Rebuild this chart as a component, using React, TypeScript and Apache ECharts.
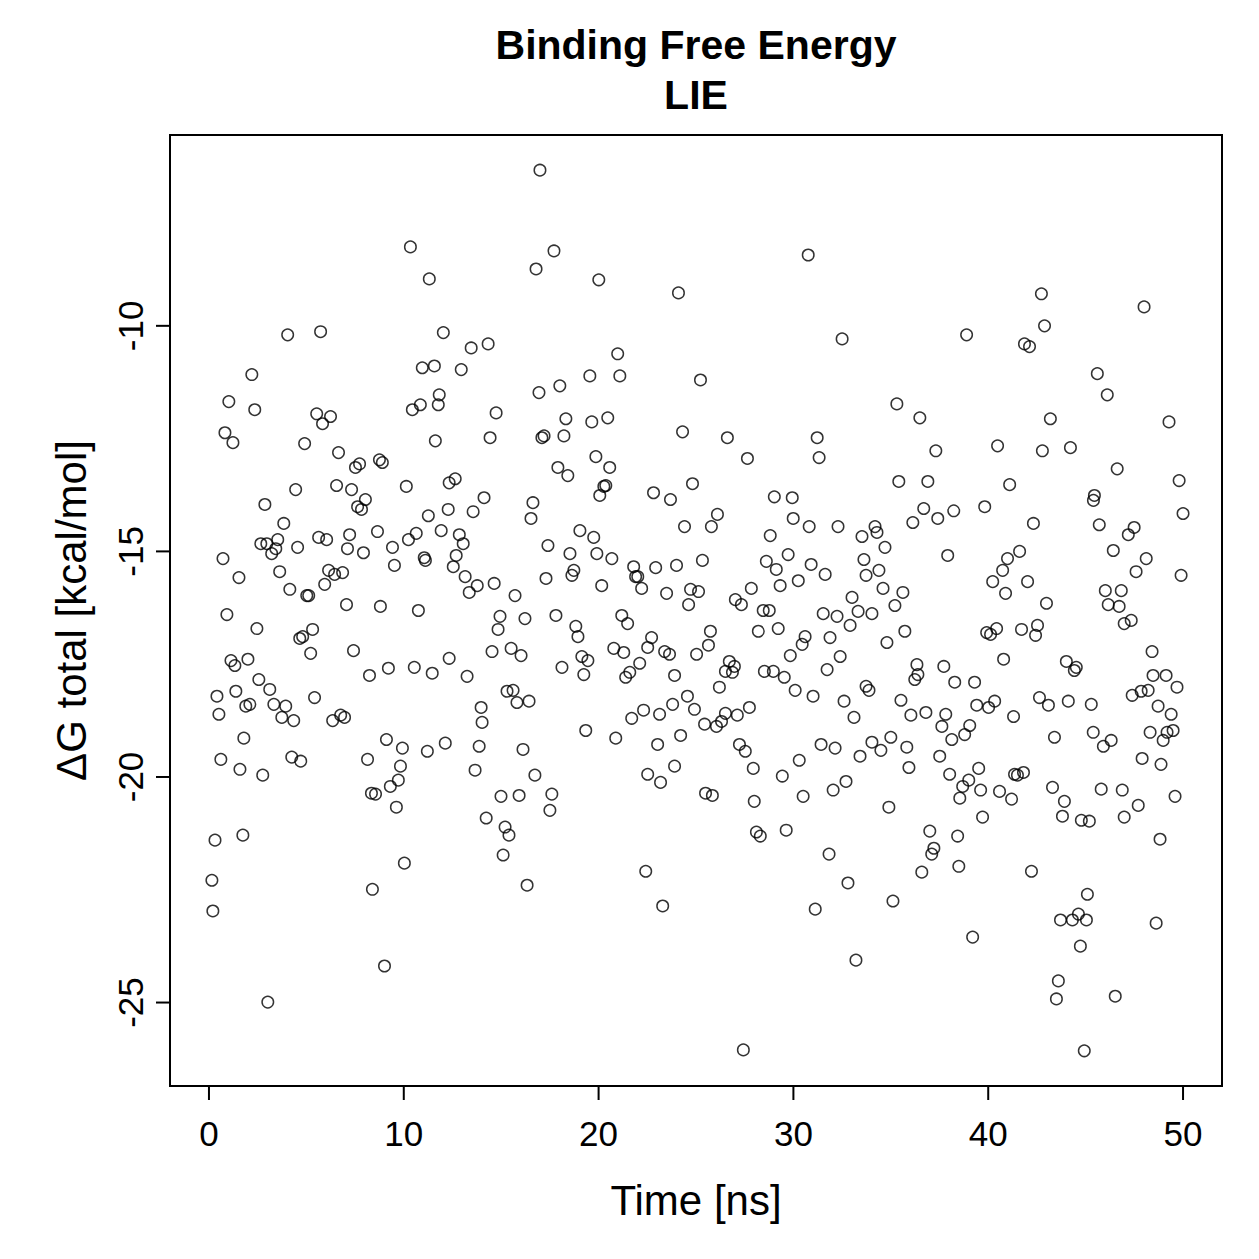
import React, { useEffect, useRef } from "react";
import * as echarts from "echarts";

// Binding free energy (LIE), time [ns] vs ΔG total [kcal/mol]
const lie0to10: [number, number][] = [
  [0.15, -22.29], [0.2, -22.97], [0.31, -21.4], [0.41, -18.21], [0.51, -18.61], [0.61, -19.61], [0.72, -15.16], [0.82, -12.37],
  [0.92, -16.4], [1.02, -11.68], [1.13, -17.42], [1.23, -12.59], [1.33, -17.53], [1.38, -18.1], [1.54, -15.58], [1.59, -19.83],
  [1.74, -21.29], [1.79, -19.14], [1.89, -18.43], [2.0, -17.39], [2.1, -18.39], [2.2, -11.08], [2.35, -11.86], [2.46, -16.71],
  [2.56, -17.84], [2.66, -14.83], [2.76, -19.96], [2.87, -13.96], [2.97, -14.83], [3.02, -24.99], [3.12, -18.06], [3.22, -15.05],
  [3.33, -18.39], [3.43, -14.94], [3.53, -14.74], [3.63, -15.45], [3.74, -18.68], [3.84, -14.38], [3.94, -18.43], [4.04, -10.2],
  [4.15, -15.84], [4.25, -19.56], [4.35, -18.75], [4.45, -13.63], [4.55, -14.91], [4.66, -16.93], [4.71, -19.65], [4.81, -16.89],
  [4.91, -12.61], [5.02, -15.98], [5.12, -15.98], [5.22, -17.26], [5.32, -16.73], [5.42, -18.24], [5.53, -11.95], [5.63, -14.69],
  [5.73, -10.13], [5.83, -12.17], [5.94, -15.73], [6.04, -14.74], [6.14, -15.42], [6.24, -12.01], [6.35, -18.75], [6.45, -15.51],
  [6.55, -13.54], [6.65, -12.81], [6.76, -18.63], [6.86, -15.47], [6.96, -18.68], [7.06, -16.18], [7.11, -14.94], [7.22, -14.63],
  [7.32, -13.63], [7.42, -17.2], [7.52, -13.14], [7.63, -14.01], [7.73, -13.06], [7.83, -14.07], [7.93, -15.03], [8.03, -13.85],
  [8.14, -19.61], [8.24, -17.75], [8.34, -20.36], [8.39, -22.49], [8.55, -20.38], [8.65, -14.56], [8.75, -12.97], [8.8, -16.22],
  [8.9, -13.03], [9.01, -24.19], [9.11, -19.17], [9.21, -17.59], [9.31, -20.21], [9.42, -14.91], [9.52, -15.31], [9.62, -20.67],
  [9.72, -20.07], [9.83, -19.76], [9.93, -19.36],
];
const lie10to20: [number, number][] = [
  [10.03, -21.91], [10.13, -13.56], [10.24, -14.74], [10.34, -8.25], [10.44, -11.86], [10.54, -17.57], [10.64, -14.6], [10.75, -16.31],
  [10.85, -11.75], [10.95, -10.93], [11.05, -15.14], [11.11, -15.2], [11.21, -19.43], [11.31, -8.96], [11.26, -14.21], [11.46, -17.7],
  [11.57, -10.89], [11.62, -12.55], [11.77, -11.75], [11.82, -11.53], [11.92, -14.54], [12.03, -10.15], [12.13, -19.25], [12.33, -13.48],
  [12.33, -17.37], [12.28, -14.07], [12.54, -15.34], [12.64, -13.39], [12.69, -15.09], [12.85, -14.63], [12.95, -10.97], [13.05, -14.83],
  [13.15, -15.56], [13.25, -17.77], [13.36, -15.91], [13.46, -10.49], [13.56, -14.12], [13.66, -19.85], [13.77, -15.76], [13.87, -19.32],
  [13.97, -18.46], [14.02, -18.79], [14.12, -13.81], [14.23, -20.91], [14.33, -10.4], [14.43, -12.48], [14.53, -17.22], [14.64, -15.71],
  [14.74, -11.93], [14.84, -16.73], [14.94, -16.44], [14.99, -20.43], [15.1, -21.73], [15.2, -21.11], [15.3, -18.1], [15.4, -21.29],
  [15.51, -17.15], [15.61, -18.08], [15.71, -15.98], [15.81, -18.35], [15.92, -20.41], [16.02, -17.31], [16.12, -19.39], [16.22, -16.49],
  [16.33, -22.4], [16.43, -18.32], [16.53, -14.27], [16.63, -13.92], [16.73, -19.96], [16.79, -8.74], [16.94, -11.48], [16.99, -6.55],
  [17.09, -12.48], [17.2, -12.44], [17.3, -15.6], [17.4, -14.87], [17.5, -20.74], [17.6, -20.38], [17.71, -8.34], [17.81, -16.42],
  [17.91, -13.14], [18.01, -11.33], [18.12, -17.57], [18.22, -12.44], [18.32, -12.06], [18.42, -13.32], [18.53, -15.05], [18.63, -15.53],
  [18.73, -15.42], [18.83, -16.66], [18.94, -16.89], [19.04, -14.54], [19.14, -17.33], [19.24, -17.73], [19.34, -18.97], [19.45, -17.42],
  [19.55, -11.11], [19.65, -12.13], [19.75, -14.69], [19.86, -12.9], [19.91, -15.05],
];
const lie20to30: [number, number][] = [
  [20.01, -8.98], [20.06, -13.76], [20.16, -15.76], [20.27, -13.56], [20.37, -13.54], [20.47, -12.04], [20.57, -13.14], [20.68, -15.16],
  [20.78, -17.15], [20.88, -19.14], [20.98, -10.62], [21.09, -11.11], [21.19, -16.42], [21.29, -17.24], [21.39, -17.79], [21.49, -16.6],
  [21.6, -17.68], [21.7, -18.7], [21.8, -15.34], [21.9, -15.56], [22.01, -15.56], [22.11, -17.48], [22.21, -15.82], [22.31, -18.52],
  [22.42, -22.09], [22.52, -19.94], [22.52, -17.13], [22.72, -16.91], [22.82, -13.7], [22.93, -15.36], [23.03, -19.28], [23.13, -18.61],
  [23.18, -20.12], [23.29, -22.86], [23.39, -17.22], [23.49, -15.93], [23.64, -17.28], [23.69, -13.85], [23.8, -18.39], [23.9, -17.75],
  [23.9, -19.76], [24.0, -15.31], [24.1, -9.27], [24.21, -19.08], [24.31, -12.35], [24.41, -14.45], [24.56, -18.21], [24.62, -16.18],
  [24.72, -15.84], [24.82, -13.5], [24.92, -18.5], [25.03, -17.28], [25.13, -15.89], [25.23, -11.2], [25.33, -15.2], [25.44, -18.83],
  [25.49, -20.36], [25.64, -17.08], [25.74, -16.77], [25.79, -14.45], [25.84, -20.41], [26.1, -14.18], [26.05, -18.88], [26.2, -18.01],
  [26.31, -18.77], [26.51, -18.59], [26.51, -17.66], [26.61, -12.48], [26.71, -17.44], [26.87, -17.68], [26.97, -17.55], [27.02, -16.07],
  [27.12, -18.63], [27.23, -19.28], [27.33, -16.18], [27.43, -26.05], [27.53, -19.43], [27.64, -12.94], [27.74, -18.46], [27.84, -15.82],
  [27.94, -19.81], [27.99, -20.54], [28.1, -21.22], [28.2, -16.77], [28.3, -21.31], [28.45, -16.31], [28.51, -17.66], [28.61, -15.22],
  [28.76, -16.31], [28.81, -14.65], [28.97, -17.66], [29.02, -13.79], [29.12, -15.4], [29.22, -16.71], [29.32, -15.76], [29.43, -19.98],
  [29.53, -17.79], [29.63, -21.18], [29.73, -15.07], [29.84, -17.31], [29.94, -13.81], [29.99, -14.27],
];
const lie30to40: [number, number][] = [
  [30.09, -18.08], [30.25, -15.65], [30.3, -19.63], [30.45, -17.06], [30.5, -20.43], [30.6, -16.89], [30.76, -8.43], [30.81, -14.45],
  [30.91, -15.29], [31.01, -18.21], [31.12, -22.93], [31.22, -12.48], [31.32, -12.92], [31.42, -19.28], [31.53, -16.38], [31.63, -15.51],
  [31.73, -17.62], [31.83, -21.71], [31.88, -16.91], [32.04, -20.29], [32.14, -19.36], [32.24, -16.44], [32.29, -14.45], [32.4, -17.33],
  [32.5, -10.29], [32.6, -18.32], [32.7, -20.1], [32.8, -22.35], [32.91, -16.64], [33.01, -16.02], [33.11, -18.68], [33.21, -24.06],
  [33.32, -16.33], [33.42, -19.54], [33.52, -14.67], [33.62, -15.18], [33.73, -15.53], [33.73, -17.99], [33.88, -18.08], [34.03, -16.38],
  [34.03, -19.23], [34.19, -14.45], [34.29, -14.58], [34.39, -15.42], [34.49, -19.41], [34.6, -15.82], [34.7, -14.91], [34.8, -17.02],
  [34.9, -20.67], [35.0, -19.12], [35.11, -22.75], [35.21, -16.2], [35.31, -11.73], [35.41, -13.45], [35.52, -18.3], [35.62, -15.91],
  [35.72, -16.77], [35.82, -19.34], [35.93, -19.79], [36.03, -18.63], [36.13, -14.36], [36.23, -17.84], [36.34, -17.51], [36.39, -17.73],
  [36.49, -12.04], [36.59, -22.11], [36.69, -14.05], [36.8, -18.57], [36.9, -13.45], [37.0, -21.2], [37.1, -21.71], [37.21, -21.58],
  [37.31, -12.77], [37.41, -14.27], [37.51, -19.54], [37.62, -18.88], [37.72, -17.55], [37.82, -18.61], [37.92, -15.09], [38.02, -19.94],
  [38.13, -19.17], [38.23, -14.1], [38.28, -17.9], [38.43, -21.31], [38.49, -21.98], [38.54, -20.47], [38.69, -20.21], [38.79, -19.06],
  [38.89, -10.2], [39.0, -20.07], [39.05, -18.86], [39.2, -23.55], [39.3, -17.9], [39.41, -18.41], [39.51, -19.81], [39.61, -20.29],
  [39.71, -20.89], [39.82, -14.01], [39.92, -16.8],
];
const lie40to50: [number, number][] = [
  [40.02, -18.46], [40.12, -16.84], [40.23, -15.67], [40.33, -18.32], [40.43, -16.71], [40.48, -12.66], [40.58, -20.32], [40.74, -15.42],
  [40.79, -17.39], [40.89, -15.93], [40.99, -15.16], [41.1, -13.52], [41.2, -20.49], [41.3, -18.66], [41.35, -19.94], [41.5, -19.96],
  [41.61, -15.0], [41.71, -16.73], [41.81, -19.9], [41.86, -10.4], [42.02, -15.67], [42.12, -10.46], [42.22, -22.09], [42.32, -14.38],
  [42.43, -16.86], [42.53, -16.64], [42.63, -18.24], [42.73, -9.29], [42.78, -12.77], [42.89, -10.0], [42.99, -16.15], [43.09, -18.41],
  [43.19, -12.06], [43.3, -20.23], [43.4, -19.12], [43.5, -24.92], [43.6, -24.52], [43.71, -23.17], [43.81, -20.87], [43.91, -20.54],
  [44.01, -17.44], [44.11, -18.32], [44.22, -12.7], [44.32, -23.17], [44.42, -17.64], [44.52, -17.57], [44.63, -23.04], [44.73, -23.75],
  [44.78, -20.96], [44.93, -26.07], [45.04, -23.17], [45.09, -22.6], [45.19, -20.98], [45.29, -18.39], [45.39, -19.01], [45.45, -13.76],
  [45.4, -13.87], [45.6, -11.06], [45.7, -14.41], [45.8, -20.27], [45.91, -19.32], [46.01, -15.87], [46.11, -11.53], [46.16, -16.18],
  [46.31, -19.19], [46.42, -14.98], [46.52, -24.86], [46.62, -13.17], [46.72, -16.22], [46.83, -15.87], [46.88, -20.29], [46.98, -20.89],
  [46.98, -16.6], [47.19, -14.63], [47.34, -16.53], [47.39, -18.19], [47.49, -14.47], [47.59, -15.45], [47.7, -20.63], [47.85, -18.1],
  [47.9, -19.59], [48.0, -9.58], [48.11, -15.16], [48.21, -18.08], [48.31, -19.01], [48.41, -17.22], [48.46, -17.75], [48.62, -23.24],
  [48.72, -18.43], [48.82, -21.38], [48.87, -19.72], [48.98, -19.19], [49.13, -17.75], [49.18, -19.01], [49.28, -12.13], [49.39, -18.61],
  [49.49, -18.97], [49.59, -20.43], [49.69, -18.01], [49.8, -13.43], [49.9, -15.53], [50.0, -14.16],
];

const xTicks = [0, 10, 20, 30, 40, 50];
const yTicks = [-25, -20, -15, -10];
const xRange = [-2, 52];
const yRange = [-26.85, -5.77];
const titleLines = ["Binding Free Energy", "LIE"];
const xTitle = "Time [ns]";
const yTitle = "ΔG total [kcal/mol]";

const FONT = "'Liberation Sans', Arial, Helvetica, sans-serif";
const TICK_LEN = 14;

export default function App() {
  const ref = useRef<HTMLDivElement>(null);
  useEffect(() => {
    if (!ref.current) return;
    const chart = echarts.init(ref.current, undefined, { renderer: "svg" });
    const data = [...lie0to10, ...lie10to20, ...lie20to30, ...lie30to40, ...lie40to50];
    // tick anchor points: [x, y, side] (side 0 = bottom axis, 1 = left axis)
    const tickData = [
      ...xTicks.map((v) => [v, yRange[0], 0]),
      ...yTicks.map((v) => [xRange[0], v, 1]),
    ];
    chart.setOption({
      animation: false,
      graphic: [
        {
          type: "text",
          x: 696,
          y: 45,
          style: { text: titleLines[0], align: "center", verticalAlign: "middle", font: `bold 41px ${FONT}`, fill: "#000" },
        },
        {
          type: "text",
          x: 696,
          y: 95,
          style: { text: titleLines[1], align: "center", verticalAlign: "middle", font: `bold 41px ${FONT}`, fill: "#000" },
        },
      ],
      grid: {
        left: 170,
        top: 135,
        width: 1052,
        height: 951,
        show: true,
        borderColor: "#000",
        borderWidth: 2,
      },
      xAxis: {
        type: "value",
        min: xRange[0],
        max: xRange[1],
        splitLine: { show: false },
        axisLine: { show: false, onZero: false },
        axisTick: { show: false },
        axisLabel: { customValues: xTicks, fontSize: 35, color: "#000", margin: 30, fontFamily: FONT },
        name: xTitle,
        nameLocation: "middle",
        nameGap: 93,
        nameTextStyle: { fontSize: 42, color: "#000", fontFamily: FONT },
      },
      yAxis: {
        type: "value",
        min: yRange[0],
        max: yRange[1],
        splitLine: { show: false },
        axisLine: { show: false, onZero: false },
        axisTick: { show: false },
        axisLabel: { customValues: yTicks, fontSize: 35, color: "#000", margin: 22, rotate: 90, fontFamily: FONT },
        name: yTitle,
        nameLocation: "middle",
        nameGap: 78,
        nameRotate: 90,
        nameTextStyle: { fontSize: 42, color: "#000", fontFamily: FONT },
      },
      series: [
        {
          type: "scatter",
          data,
          symbol: "circle",
          symbolSize: 11.5,
          itemStyle: { color: "rgba(0,0,0,0)", borderColor: "#000", borderWidth: 1.5 },
        },
        {
          type: "custom",
          data: tickData,
          clip: false,
          silent: true,
          z: 10,
          encode: { x: 0, y: 1 },
          renderItem: (_params: any, api: any) => {
            const p = api.coord([api.value(0), api.value(1)]);
            const side = api.value(2);
            const shape =
              side === 0
                ? { x1: p[0], y1: p[1], x2: p[0], y2: p[1] + TICK_LEN }
                : { x1: p[0], y1: p[1], x2: p[0] - TICK_LEN, y2: p[1] };
            return { type: "line", shape, style: { stroke: "#000", lineWidth: 2, fill: null } };
          },
        },
      ],
    });
    return () => chart.dispose();
  }, []);
  return (
    <div
      ref={ref}
      style={{ position: "fixed", left: 0, top: 0, width: 1259, height: 1259, background: "#fff" }}
    />
  );
}
